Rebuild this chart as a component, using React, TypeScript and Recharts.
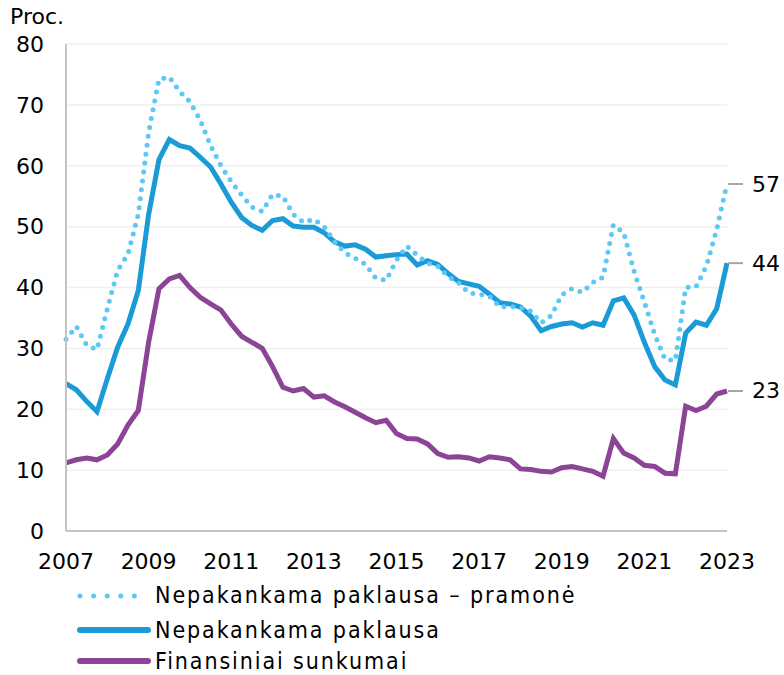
import { CartesianGrid, Line, LineChart, XAxis, YAxis } from 'recharts'

// quarterly observations, 2007 Q1 – 2023 Q1
const START_YEAR = 2007
const yearTicks = [2007, 2009, 2011, 2013, 2015, 2017, 2019, 2021, 2023]
const valueTicks = [0, 10, 20, 30, 40, 50, 60, 70, 80]

const industryDemand = [
  31.5, 33.6, 30.5, 29.8, 36.5, 42.8, 45.5, 52.0, 65.5, 74.2,
  74.6, 72.2, 70.5, 67.5, 63.3, 60.0, 57.4, 55.2, 53.2, 52.5,
  55.3, 55.0, 52.0, 50.7, 51.2, 50.0, 47.5, 45.7, 44.8, 43.8,
  41.5, 41.2, 44.5, 46.8, 45.3, 44.0, 43.5, 41.8, 40.8, 39.1,
  38.9, 38.6, 36.8, 36.9, 36.7, 36.1, 34.2, 35.4, 38.8, 39.8,
  39.2, 40.8, 41.7, 50.3, 49.0, 42.7, 37.6, 32.3, 28.2, 28.0,
  40.0, 40.1, 43.5, 49.5, 57.0,
]

const demand = [
  24.2, 23.2, 21.3, 19.6, 25.0, 30.2, 34.0, 39.5, 52.0, 61.0,
  64.3, 63.3, 62.9, 61.4, 59.8, 57.0, 54.0, 51.5, 50.2, 49.4,
  51.0, 51.3, 50.1, 49.9, 49.9, 49.0, 47.5, 46.8, 47.0, 46.3,
  45.0, 45.2, 45.4, 45.5, 43.7, 44.4, 43.8, 42.3, 41.0, 40.6,
  40.2, 38.9, 37.5, 37.3, 36.8, 35.3, 32.9, 33.6, 34.0, 34.2,
  33.5, 34.2, 33.8, 37.8, 38.3, 35.5, 31.0, 27.0, 24.8, 24.0,
  32.5, 34.3, 33.8, 36.5, 44.0,
]

const financial = [
  11.2, 11.7, 12.0, 11.7, 12.5, 14.3, 17.4, 19.8, 31.0, 39.8,
  41.4, 42.0, 40.0, 38.4, 37.3, 36.3, 34.0, 32.0, 31.0, 30.0,
  27.0, 23.6, 23.0, 23.4, 22.0, 22.2, 21.2, 20.4, 19.5, 18.6,
  17.8, 18.2, 16.0, 15.2, 15.1, 14.3, 12.7, 12.1, 12.2, 12.0,
  11.5, 12.2, 12.0, 11.7, 10.2, 10.1, 9.8, 9.7, 10.4, 10.6,
  10.2, 9.8, 9.0, 15.2, 12.8, 12.0, 10.8, 10.6, 9.5, 9.4,
  20.5, 19.8, 20.5, 22.5, 23.0,
]

const COLORS = {
  industry: '#5bc8f6',
  demand: '#1a9bd7',
  financial: '#8c4496',
}

const FONT = "'DejaVu Sans', Verdana, sans-serif"

const data = demand.map((_, i) => ({
  t: START_YEAR + i * 0.25,
  industry: industryDemand[i],
  demand: demand[i],
  financial: financial[i],
}))

const LAST = data.length - 1

function renderEndLabel(props: any) {
  const { cx, cy, index, value } = props
  if (index !== LAST) return <g key={`end-${index}`} />
  return (
    <g key={`end-${index}`}>
      <line x1={cx + 1} x2={cx + 16} y1={cy} y2={cy} stroke="#a6a6a6" strokeWidth={2} />
      <text x={cx + 25} y={cy} dominantBaseline="central" fontSize={22} fontFamily={FONT} fill="#000">
        {Math.round(value)}
      </text>
    </g>
  )
}

const legendItems = [
  { name: 'Nepakankama paklausa – pramonė', color: COLORS.industry, dotted: true, rowHeight: 35 },
  { name: 'Nepakankama paklausa', color: COLORS.demand, dotted: false, rowHeight: 34 },
  { name: 'Finansiniai sunkumai', color: COLORS.financial, dotted: false, rowHeight: 28 },
]

function ChartLegend() {
  return (
    <div style={{ position: 'absolute', left: 74, top: 578 }}>
      {legendItems.map((item) => (
        <div key={item.name} style={{ display: 'flex', alignItems: 'center', height: item.rowHeight }}>
          <svg width={80} height={12} style={{ marginRight: 1, flex: 'none' }}>
            <line
              x1={6}
              x2={74}
              y1={6}
              y2={6}
              stroke={item.color}
              strokeWidth={item.dotted ? 5 : 6}
              strokeLinecap="round"
              strokeDasharray={item.dotted ? '0 13.6' : undefined}
            />
          </svg>
          <span
            style={{
              fontFamily: "'DejaVu Sans Condensed', 'DejaVu Sans', sans-serif",
              fontStretch: 'condensed',
              fontSize: 23,
              lineHeight: 1,
              letterSpacing: 1.9,
              color: '#000',
              whiteSpace: 'nowrap',
            }}
          >
            {item.name}
          </span>
        </div>
      ))}
    </div>
  )
}

export default function App() {
  return (
    <div style={{ position: 'absolute', left: 0, top: 0, width: 784, height: 675, background: '#fff', overflow: 'hidden' }}>
      <div style={{ position: 'absolute', left: 10, top: 4, fontFamily: FONT, fontSize: 22, color: '#000' }}>
        Proc.
      </div>
      <LineChart width={784} height={575} data={data} margin={{ top: 44, right: 57, left: 0, bottom: 0 }}>
        <CartesianGrid vertical={false} stroke="#efefef" strokeWidth={1.5} />
        <XAxis
          dataKey="t"
          type="number"
          domain={[2007, 2023]}
          ticks={yearTicks}
          interval={0}
          height={44}
          tickLine={false}
          tickSize={0}
          tickMargin={22}
          axisLine={{ stroke: '#c4c4c4', strokeWidth: 2 }}
          tick={{ fontSize: 22, fontFamily: FONT, fill: '#000' }}
        />
        <YAxis
          type="number"
          domain={[0, 80]}
          ticks={valueTicks}
          interval={0}
          width={66}
          tickLine={false}
          tickSize={0}
          tickMargin={22}
          axisLine={{ stroke: '#c4c4c4', strokeWidth: 2 }}
          tick={{ fontSize: 22, fontFamily: FONT, fill: '#000' }}
        />
        <Line
          dataKey="financial"
          stroke={COLORS.financial}
          strokeWidth={5}
          dot={renderEndLabel}
          activeDot={false}
          isAnimationActive={false}
        />
        <Line
          dataKey="demand"
          stroke={COLORS.demand}
          strokeWidth={5}
          dot={renderEndLabel}
          activeDot={false}
          isAnimationActive={false}
        />
        <Line
          dataKey="industry"
          stroke={COLORS.industry}
          strokeWidth={5}
          strokeLinecap="round"
          strokeDasharray="0 9"
          dot={renderEndLabel}
          activeDot={false}
          isAnimationActive={false}
        />
      </LineChart>
      <ChartLegend />
    </div>
  )
}
